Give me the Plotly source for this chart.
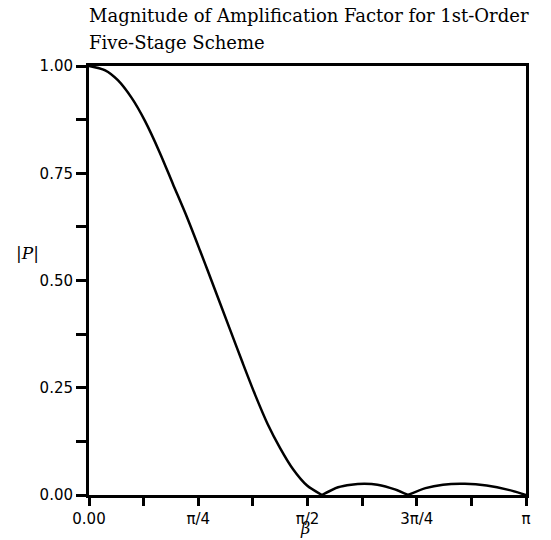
import numpy as np
import plotly.graph_objects as go

# beta expressed as fraction of pi, |P| values
beta_main = [0.0, 0.037, 0.066, 0.098, 0.128, 0.162, 0.192, 0.224, 0.254, 0.272,
             0.323, 0.352, 0.380, 0.409, 0.437, 0.467, 0.499, 0.533]
p_main = [1.0, 0.990, 0.967, 0.925, 0.872, 0.798, 0.725, 0.648, 0.570, 0.522,
          0.385, 0.307, 0.234, 0.165, 0.110, 0.060, 0.022, 0.0]

beta_bump1 = [0.533, 0.57, 0.60, 0.63, 0.66, 0.70, 0.73]
p_bump1 = [0.0, 0.018, 0.024, 0.026, 0.024, 0.013, 0.0]

beta_bump2 = [0.73, 0.77, 0.81, 0.86, 0.91, 0.96, 1.0]
p_bump2 = [0.0, 0.016, 0.024, 0.026, 0.022, 0.012, 0.0]

x_tickvals = [0, 0.25, 0.5, 0.75, 1.0]
x_ticktext = ["0.00", "π/4", "π/2", "3π/4", "π"]
y_tickvals = [0, 0.25, 0.5, 0.75, 1.0]
y_ticktext = ["0.00", "0.25", "0.50", "0.75", "1.00"]

title_lines = ["Magnitude of Amplification Factor for 1st-Order", "Five-Stage Scheme"]

fig = go.Figure()
for bx, py in [(beta_main, p_main), (beta_bump1, p_bump1), (beta_bump2, p_bump2)]:
    fig.add_trace(go.Scatter(
        x=np.array(bx) * np.pi, y=py, mode="lines",
        line=dict(color="black", width=2.5, shape="spline", smoothing=0.8),
        showlegend=False, hoverinfo="skip"))

fig.update_layout(
    width=551, height=540,
    margin=dict(l=89, r=25, t=66, b=45),
    paper_bgcolor="white", plot_bgcolor="white",
    font=dict(family="DejaVu Sans, sans-serif", size=15, color="black"),
)

fig.update_xaxes(
    range=[0, np.pi], tickvals=[v * np.pi for v in x_tickvals], ticktext=x_ticktext,
    showline=True, linecolor="black", linewidth=3, mirror=True,
    ticks="outside", ticklen=8, tickwidth=2.5, tickcolor="black",
    minor=dict(dtick=np.pi / 8, tick0=0, ticks="outside", ticklen=8, tickwidth=2.5, tickcolor="black"),
    showgrid=False, zeroline=False, tickfont=dict(size=15))

fig.update_yaxes(
    range=[0, 1.0], tickvals=y_tickvals, ticktext=y_ticktext,
    showline=True, linecolor="black", linewidth=3, mirror=True,
    ticks="outside", ticklen=10, tickwidth=2.5, tickcolor="black",
    minor=dict(dtick=0.125, tick0=0, ticks="outside", ticklen=10, tickwidth=2.5, tickcolor="black"),
    showgrid=False, zeroline=False, tickfont=dict(size=15))

# title lines
for i, (line, ypx) in enumerate(zip(title_lines, [16, 43])):
    fig.add_annotation(text=line, xref="x domain", yref="y domain",
                       x=(87 - 89) / 437, y=(495 - ypx) / 429,
                       xanchor="left", yanchor="middle", showarrow=False,
                       font=dict(family="DejaVu Serif, serif", size=18, color="black"))

fig.add_annotation(text="|<i>P</i>|", xref="x domain", yref="y domain",
                   x=(27 - 89) / 437, y=(495 - 253) / 429,
                   xanchor="center", yanchor="middle", showarrow=False,
                   font=dict(family="DejaVu Serif, serif", size=17))
fig.add_annotation(text="<i>β</i>", xref="x domain", yref="y domain",
                   x=(305 - 89) / 437, y=(495 - 528) / 429,
                   xanchor="center", yanchor="middle", showarrow=False,
                   font=dict(family="DejaVu Serif, serif", size=16))

fig.write_html("out.html")
